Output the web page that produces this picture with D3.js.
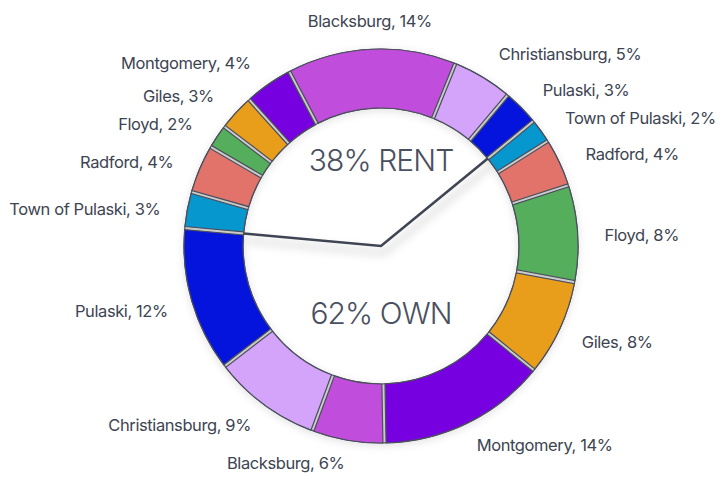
<!DOCTYPE html>
<html>
<head>
<meta charset="utf-8">
<script src="https://cdn.jsdelivr.net/npm/d3@7"></script>
<style>
  body { margin: 0; background: #fff; }
  svg { display: block; font-family: Inter, "Noto Sans", sans-serif; }
</style>
</head>
<body>
<svg width="722" height="479"></svg>
<script>
// towns, same order in both halves of the ring (clockwise)
var towns = ["Radford", "Floyd", "Giles", "Montgomery", "Blacksburg", "Christiansburg", "Pulaski", "Town of Pulaski"];
var ownValues = [4, 8, 8, 14, 6, 9, 12, 3];
var rentValues = [4, 2, 3, 4, 14, 5, 3, 2];
var townColors = ["#e2736b", "#54ae5c", "#e89e1b", "#7700e0", "#c04ddb", "#d4a4fb", "#0414dd", "#0597cd"];
var ownTitle = "62% OWN";
var rentTitle = "38% RENT";

var svg = d3.select("svg"),
    width = +svg.attr("width"),
    height = +svg.attr("height");

var cx = 381, cy = 246,
    outerR = 197, innerR = 138;

var slices = [];
towns.forEach(function(t, i) { slices.push({town: t, value: ownValues[i], group: "own", color: townColors[i]}); });
towns.forEach(function(t, i) { slices.push({town: t, value: rentValues[i], group: "rent", color: townColors[i]}); });

var start = 57.8 * Math.PI / 180;
var pie = d3.pie()
    .sort(null)
    .value(function(d) { return d.value; })
    .startAngle(start)
    .endAngle(start + 2 * Math.PI);

var arcs = pie(slices);

var arc = d3.arc().innerRadius(innerR).outerRadius(outerR).padAngle(0.013);

var defs = svg.append("defs");
var f = defs.append("filter").attr("id", "shadow")
    .attr("x", "-50%").attr("y", "-50%").attr("width", "200%").attr("height", "200%");
f.append("feDropShadow").attr("dx", 3).attr("dy", 7).attr("stdDeviation", 5)
    .attr("flood-color", "#000").attr("flood-opacity", 0.28);
var g2 = defs.append("filter").attr("id", "glow")
    .attr("x", "-20%").attr("y", "-20%").attr("width", "140%").attr("height", "140%");
g2.append("feDropShadow").attr("dx", 0).attr("dy", 2).attr("stdDeviation", 4)
    .attr("flood-color", "#000").attr("flood-opacity", 0.12);

var g = svg.append("g").attr("transform", "translate(" + cx + "," + cy + ")");

// base ring shows through the gaps
g.append("path")
    .attr("d", d3.arc().innerRadius(innerR).outerRadius(outerR)({startAngle: 0, endAngle: 2 * Math.PI}))
    .attr("fill", "#cbcbcb")
    .attr("stroke", "#4a4f5c")
    .attr("stroke-width", 1.2)
    .attr("filter", "url(#glow)");

g.selectAll("path.slice")
    .data(arcs)
    .enter().append("path")
    .attr("class", "slice")
    .attr("d", arc)
    .attr("fill", function(d) { return d.data.color; })
    .attr("stroke", "#4a4f5c")
    .attr("stroke-width", 1.2);

// dividers point at the start of each Town of Pulaski slice
var dividers = arcs.filter(function(d) { return d.data.town === "Town of Pulaski"; });
g.append("path")
    .attr("d", function() {
        var a = dividers[0].startAngle, b = dividers[1].startAngle;
        return "M" + (Math.sin(a) * innerR) + "," + (-Math.cos(a) * innerR) +
            "L0,0L" + (Math.sin(b) * innerR) + "," + (-Math.cos(b) * innerR);
    })
    .attr("fill", "none")
    .attr("stroke", "#3f4553")
    .attr("stroke-width", 2.6)
    .attr("stroke-linejoin", "miter")
    .attr("filter", "url(#shadow)");

// labels sit a bit closer to the ring toward the bottom
function labelPos(d) {
    var a = (d.startAngle + d.endAngle) / 2;
    var s = Math.sin(a), c = Math.cos(a);
    var rx = 229 - 11 * (1 - c) / 2,
        ry = 229 - 13 * (1 - c) / 2;
    return [s * rx, -c * ry + 4];
}

g.selectAll("text.label")
    .data(arcs)
    .enter().append("text")
    .attr("class", "label")
    .attr("x", function(d) { return labelPos(d)[0]; })
    .attr("y", function(d) { return labelPos(d)[1]; })
    .attr("dy", "0.35em")
    .attr("text-anchor", function(d) {
        var s = Math.sin((d.startAngle + d.endAngle) / 2);
        return s > 0.1 ? "start" : s < -0.1 ? "end" : "middle";
    })
    .attr("fill", "#3d4452")
    .attr("font-size", 16.5)
    .attr("letter-spacing", -0.4)
    .text(function(d) { return d.data.town + ", " + d.data.value + "%"; });

g.append("text")
    .attr("x", 0).attr("y", -86)
    .attr("dy", "0.35em")
    .attr("text-anchor", "middle")
    .attr("font-size", 30)
    .attr("font-weight", 300)
    .attr("letter-spacing", -0.9)
    .attr("fill", "#4a5060")
    .text(rentTitle);

g.append("text")
    .attr("x", 0).attr("y", 67)
    .attr("dy", "0.35em")
    .attr("text-anchor", "middle")
    .attr("font-size", 30)
    .attr("font-weight", 300)
    .attr("letter-spacing", -0.9)
    .attr("fill", "#4a5060")
    .text(ownTitle);
</script>
</body>
</html>
